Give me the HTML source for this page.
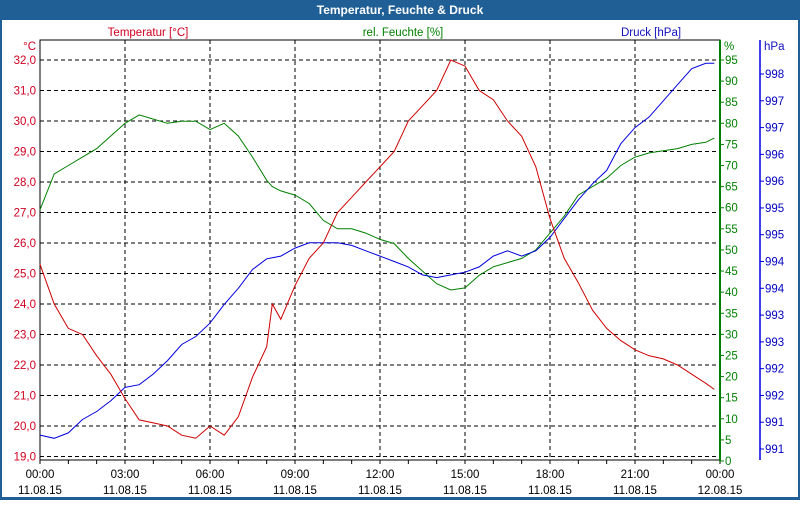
<!DOCTYPE html>
<html><head><meta charset="utf-8"><style>
body{margin:0;width:800px;height:500px;overflow:hidden;background:#fff;font-family:"Liberation Sans",sans-serif;}
</style></head><body>
<svg width="800" height="500" xmlns="http://www.w3.org/2000/svg" id="chart" font-family="'Liberation Sans','DejaVu Sans',sans-serif" font-size="11.5">
<rect x="0" y="0" width="800" height="500" fill="#1f5f96"/>
<rect x="2" y="20" width="796" height="477" fill="#fff"/>
<text x="400" y="14" fill="#fff" font-weight="bold" font-size="12" text-anchor="middle">Temperatur, Feuchte &amp; Druck</text>
<text x="148" y="36" fill="#d00020" text-anchor="middle">Temperatur [°C]</text>
<text x="403" y="36" fill="#008000" text-anchor="middle">rel. Feuchte [%]</text>
<text x="651" y="36" fill="#1010c0" text-anchor="middle">Druck [hPa]</text>
<text x="36" y="50" fill="#d00020" text-anchor="end">°C</text>
<text x="724" y="50" fill="#008000">%</text>
<text x="764" y="50" fill="#1010c0">hPa</text>
<g id="grid"></g><g id="axes"></g><g id="series"></g>
</svg>
<script>
const hours=[0,0.5,1,1.5,2,2.5,3,3.5,4,4.5,5,5.5,6,6.5,7,7.5,8,8.2,8.5,9,9.5,10,10.5,11,11.5,12,12.5,13,13.5,14,14.5,15,15.5,16,16.5,17,17.5,18,18.5,19,19.5,20,20.5,21,21.5,22,22.5,23,23.5,23.8];
const temperature=[25.3,24.0,23.2,23.0,22.3,21.7,20.9,20.2,20.1,20.0,19.7,19.6,20.0,19.7,20.3,21.6,22.6,24.0,23.5,24.6,25.5,26.0,27.0,27.5,28.0,28.5,29.0,30.0,30.5,31.0,32.0,31.8,31.0,30.7,30.0,29.5,28.5,26.8,25.5,24.7,23.8,23.2,22.8,22.5,22.3,22.2,22.0,21.7,21.4,21.2];
const humidity=[59.5,68,70,72,74,77,80,82,81,80,80.5,80.5,78.5,80,77,72,66.5,65,64,63,61,57,55,55,54,52.5,51.5,48,45,42,40.5,41,44,46,47,48,50,54,58,63,65,67,70,72,73,73.5,74,75,75.5,76.5];
const pressure=[991.26,991.2,991.3,991.55,991.7,991.9,992.15,992.2,992.4,992.65,992.95,993.1,993.35,993.7,994.0,994.35,994.55,994.57,994.6,994.75,994.85,994.85,994.85,994.8,994.7,994.6,994.5,994.4,994.25,994.2,994.25,994.3,994.4,994.6,994.7,994.6,994.7,994.95,995.3,995.65,995.95,996.2,996.7,997.0,997.2,997.5,997.8,998.1,998.2,998.2];
const tempTicks=[19,20,21,22,23,24,25,26,27,28,29,30,31,32];
const humTicks=[0,5,10,15,20,25,30,35,40,45,50,55,60,65,70,75,80,85,90,95];
const presTicks=[991,991.5,992,992.5,993,993.5,994,994.5,995,995.5,996,996.5,997,997.5,998];
const timeTicks=["00:00","03:00","06:00","09:00","12:00","15:00","18:00","21:00","00:00"];
const dateTicks=["11.08.15","11.08.15","11.08.15","11.08.15","11.08.15","11.08.15","11.08.15","11.08.15","12.08.15"];
const X=h=>40+h*680/24;
const YT=t=>60+(32-t)*30.5;
const YH=v=>461-v*401/95;
const YP=p=>449-(p-991)*53.57;
const NS="http://www.w3.org/2000/svg";
function mk(parent,tag,attrs,text){const e=document.createElementNS(NS,tag);for(const k in attrs)e.setAttribute(k,attrs[k]);if(text!==undefined)e.textContent=text;document.getElementById(parent).appendChild(e);return e;}
let e;
e=mk('grid','rect',{x:40,y:40,width:680,height:420,fill:'none',stroke:'#000'});


tempTicks.forEach(t=>{
 e=mk('grid','line',{x1:40,x2:720,y1:YT(t),y2:YT(t),stroke:'#000','stroke-dasharray':'4,3'});
 
 
 e=mk('axes','text',{x:36,y:YT(t)+4,fill:'#d00020','text-anchor':'end'},t.toFixed(1).replace('.',','));
 
 
});
timeTicks.forEach((lab,i)=>{
 const x=X(i*3);
 if(i>0&&i<8){e=mk('grid','line',{x1:x,x2:x,y1:40,y2:460,stroke:'#000','stroke-dasharray':'4,3'});
 
 }
 e=mk('axes','text',{x:x,y:478,fill:'#000','text-anchor':'middle'},lab);
 
 
 e=mk('axes','text',{x:x,y:494,fill:'#000','text-anchor':'middle'},dateTicks[i]);
 
 
});
for(let h=0;h<=24;h++){e=mk('axes','line',{x1:X(h),x2:X(h),y1:460,y2:464,stroke:'#000'});
 
 }
e=mk('axes','line',{x1:720,x2:720,y1:40,y2:461,stroke:'#008000','stroke-width':2});


humTicks.forEach(v=>{
 e=mk('axes','line',{x1:720,x2:724,y1:YH(v),y2:YH(v),stroke:'#008000'});
 
 
 e=mk('axes','text',{x:725,y:YH(v)+4,fill:'#008000'},v);
 
 
});
e=mk('axes','line',{x1:760,x2:760,y1:40,y2:460,stroke:'#0000e0','stroke-width':1.5});


presTicks.forEach(p=>{
 e=mk('axes','line',{x1:760,x2:764,y1:YP(p),y2:YP(p),stroke:'#0000e0'});
 
 
 e=mk('axes','text',{x:765,y:YP(p)+4,fill:'#0000c0'},Math.floor(p));
 
 
});
function line(vals,yf,col,name){
 const d=vals.map((v,i)=>(i?'L':'M')+X(hours[i]).toFixed(1)+','+yf(v).toFixed(1)).join('');
 const p=mk('series','path',{d:d,fill:'none',stroke:col,'stroke-width':1});
 
 
}
line(humidity,YH,'#008000','humidity-line');
line(pressure,YP,'#0000e0','pressure-line');
line(temperature,YT,'#d00000','temperature-line');
</script>
</body></html>
